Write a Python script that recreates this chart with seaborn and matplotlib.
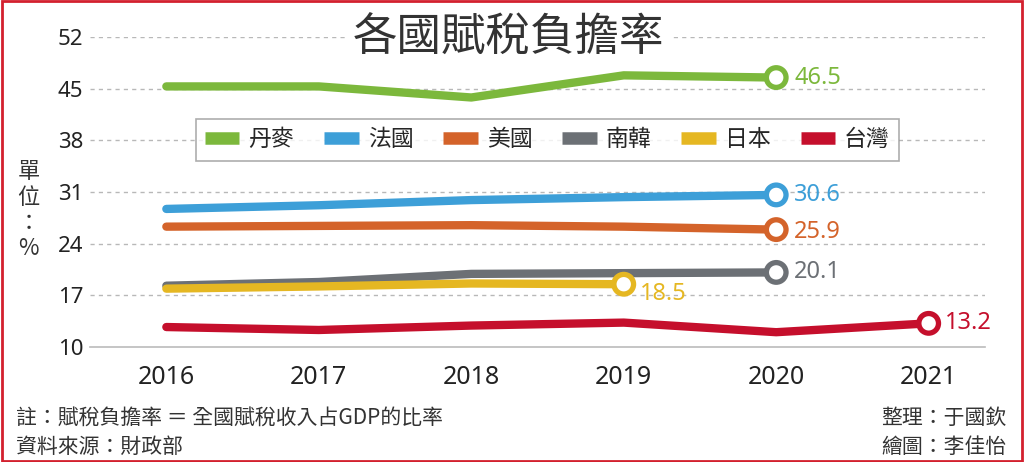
import matplotlib
matplotlib.use("Agg")
import matplotlib.pyplot as plt
from matplotlib.lines import Line2D
from matplotlib.patches import Rectangle
import seaborn as sns
import pandas as pd

years = [2016, 2017, 2018, 2019, 2020, 2021]
countries = ["丹麥", "法國", "美國", "南韓", "日本", "台灣"]
denmark = [45.3, 45.3, 43.8, 46.8, 46.5]
france = [28.7, 29.2, 29.9, 30.3, 30.6]
usa = [26.3, 26.4, 26.5, 26.3, 25.9]
korea = [18.3, 18.8, 19.9, 20.0, 20.1]
japan = [17.9, 18.2, 18.6, 18.5]
taiwan = [12.7, 12.3, 12.9, 13.3, 12.0, 13.2]
colors = ["#7cb83c", "#3d9fd8", "#d4632a", "#6c7075", "#e5b722", "#c50f2c"]
yticks = [10, 17, 24, 31, 38, 45, 52]

series = [denmark, france, usa, korea, japan, taiwan]
rows = []
for name, vals in zip(countries, series):
    for yr, v in zip(years, vals):
        rows.append({"year": yr, "country": name, "value": v})
df = pd.DataFrame(rows)
last = df.groupby("country", sort=False).tail(1)
palette = dict(zip(countries, colors))

sns.set_style("white")
plt.rcParams['font.family'] = ['Noto Sans CJK TC', 'DejaVu Sans']
num_font = ["Noto Sans", "DejaVu Sans"]

fig = plt.figure(figsize=(10.24, 4.62), dpi=100)
ax = fig.add_axes([0.088, 0.249, 0.874, 0.671])

# grid
for yv in yticks[1:]:
    ax.axhline(yv, color="#b8b8b8", lw=1.0, ls=(0, (3, 3)), zorder=0)

sns.lineplot(data=df, x="year", y="value", hue="country", palette=palette,
             linewidth=6, legend=False, ax=ax, zorder=3)
sns.scatterplot(data=last, x="year", y="value", hue="country", palette=palette,
                s=200, facecolor="white", linewidth=3.8, legend=False, ax=ax, zorder=4)
# scatter edge colours follow hue
coll = ax.collections[-1]
coll.set_edgecolor([palette[c] for c in last["country"]])
coll.set_facecolor("white")

offsets = {"丹麥": (13, 0), "法國": (13, 0), "美國": (13, -2),
           "南韓": (13, 0), "日本": (12, -7), "台灣": (12, 0)}
for _, r in last.iterrows():
    ax.annotate(f"{r['value']:.1f}", (r["year"], r["value"]),
                xytext=offsets[r["country"]], textcoords="offset points",
                ha="left", va="center", fontsize=17, color=palette[r["country"]],
                family=num_font, zorder=5)

ax.set_xlim(2015.5, 2021.37)
ax.set_ylim(10, 52)
ax.set_xticks(years)
ax.set_yticks(yticks)
ax.set_xticklabels([str(y) for y in years], fontsize=18, color="#222222", family=num_font)
ax.set_yticklabels([str(y) for y in yticks], fontsize=16, color="#222222", family=num_font)
ax.tick_params(axis="x", length=8, width=1, color="#bbbbbb", pad=5)
ax.tick_params(axis="y", length=0, pad=5)
for s in ["top", "right", "left"]:
    ax.spines[s].set_visible(False)
ax.spines["bottom"].set_color("#bbbbbb")
ax.spines["bottom"].set_linewidth(1.2)
ax.set_xlabel("")
ax.set_ylabel("")

handles = [Line2D([0], [0], color=c, lw=9, solid_capstyle="butt") for c in colors]
leg = ax.legend(handles, countries, ncol=6, loc="center", bbox_to_anchor=(0.511, 0.668),
                frameon=True, fancybox=False, fontsize=16.5, handlelength=1.5,
                handletextpad=0.4, columnspacing=1.3, borderpad=0.4)
leg.get_frame().set_edgecolor("#999999")
leg.get_frame().set_linewidth(1.2)
leg.set_zorder(6)

fig.text(0.497, 0.918, "各國賦稅負擔率", ha="center", va="center", fontsize=32,
         color="#333333", bbox=dict(facecolor="white", edgecolor="none", pad=4))

fig.text(0.028, 0.545, "單\n位\n：\n%", ha="center", va="center", fontsize=16,
         color="#333333", linespacing=1.15)

fig.text(0.016, 0.095, "註：賦稅負擔率 ＝ 全國賦稅收入占GDP的比率", ha="left", va="center",
         fontsize=15, color="#333333")
fig.text(0.016, 0.033, "資料來源：財政部", ha="left", va="center", fontsize=15, color="#333333")
fig.text(0.983, 0.095, "整理：于國欽", ha="right", va="center", fontsize=15, color="#333333")
fig.text(0.983, 0.033, "繪圖：李佳怡", ha="right", va="center", fontsize=15, color="#333333")

fig.patches.append(Rectangle((0.002, 0.003), 0.996, 0.994, transform=fig.transFigure,
                             fill=False, edgecolor="#d3202e", linewidth=2))

fig.savefig("out.png", dpi=100)
